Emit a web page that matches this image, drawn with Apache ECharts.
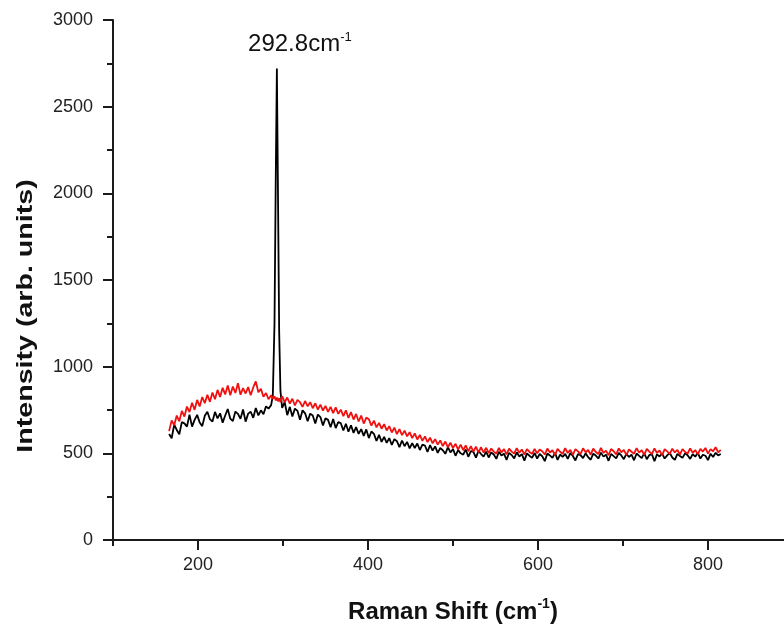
<!DOCTYPE html>
<html>
<head>
<meta charset="utf-8">
<title>Raman spectrum</title>
<script src="https://cdn.jsdelivr.net/npm/echarts@6/dist/echarts.min.js"></script>
<style>
	html, body { margin: 0; padding: 0; background: #fff; }
	#chart { width: 784px; height: 628px; }
</style>
</head>
<body>
<div id="chart"></div>
<script>
// Raman shift (cm-1), shared by both spectra
var ramanShift = [
	166, 169, 172, 175, 178, 181, 184, 187, 190, 193, 196, 199, 202, 205, 208, 211, 214, 217, 220, 223,
	226, 229, 232, 235, 238, 241, 244, 247, 250, 253, 256, 259, 262, 265, 268, 271, 274, 277, 280, 283,
	286,
	288, 290, 291.5, 292.8, 294, 295.5, 297,
	299, 302, 305, 308, 311, 314, 317, 320, 323, 326, 329, 332, 335, 338, 341, 344, 347, 350, 353, 356,
	359, 362, 365, 368, 371, 374, 377, 380, 383, 386, 389, 392, 395, 398, 401, 404, 407, 410, 413, 416,
	419, 422, 425, 428, 431, 434, 437, 440, 443, 446, 449, 452, 455, 458, 461, 464, 467, 470, 473, 476,
	479, 482, 485, 488, 491, 494, 497, 500, 503, 506, 509, 512, 515, 518, 521, 524, 527, 530, 533, 536,
	539, 542, 545, 548, 551, 554, 557, 560, 563, 566, 569, 572, 575, 578, 581, 584, 587, 590, 593, 596,
	599, 602, 605, 608, 611, 614, 617, 620, 623, 626, 629, 632, 635, 638, 641, 644, 647, 650, 653, 656,
	659, 662, 665, 668, 671, 674, 677, 680, 683, 686, 689, 692, 695, 698, 701, 704, 707, 710, 713, 716,
	719, 722, 725, 728, 731, 734, 737, 740, 743, 746, 749, 752, 755, 758, 761, 764, 767, 770, 773, 776,
	779, 782, 785, 788, 791, 794, 797, 800, 803, 806, 809, 812, 815
];
// black spectrum (with the 292.8 peak)
var blackIntensity = [
	612, 587, 665, 635, 610, 680, 673, 654, 723, 654, 693, 722, 678, 657, 717, 740, 697, 683, 739, 702,
	731, 677, 718, 756, 700, 686, 741, 728, 699, 753, 683, 729, 740, 705, 762, 719, 748, 725, 771, 758,
	778,
	830, 1250, 2100, 2720, 2050, 1200, 860,
	762, 795, 720, 768, 712, 758, 745, 694, 748, 731, 685, 729, 718, 672, 724, 709, 661, 702, 693, 650,
	698, 646, 680, 674, 632, 671, 625, 662, 618, 651, 612, 640, 601, 638, 588, 626, 612, 571, 607, 566,
	595, 560, 588, 548, 582, 570, 536, 574, 541, 566, 528, 559, 531, 557, 519, 550, 545, 508, 547, 516,
	540, 503, 531, 518, 497, 536, 505, 524, 486, 519, 500, 492, 522, 480, 513, 509, 475, 514, 496, 481,
	510, 476, 505, 493, 468, 509, 487, 498, 462, 503, 490, 471, 506, 482, 495, 458, 500, 486, 474, 502,
	470, 496, 483, 455, 499, 488, 474, 503, 462, 493, 480, 497, 468, 501, 485, 459, 495, 490, 472, 500,
	478, 463, 498, 487, 470, 504, 481, 492, 457, 496, 484, 471, 502, 488, 466, 497, 479, 493, 460, 499,
	485, 472, 501, 466, 490, 495, 455, 494, 482, 499, 470, 488, 503, 476, 462, 497, 485, 474, 500, 489,
	468, 495, 481, 502, 470, 492, 486, 461, 498, 479, 503, 488, 496
];
// red spectrum
var redIntensity = [
	628, 690, 662, 718, 685, 745, 712, 770, 738, 792, 751, 808, 770, 825, 789, 838, 797, 851, 812, 866,
	825, 878, 840, 892, 835, 885, 848, 905, 838, 876, 845, 882, 835, 880, 915, 852, 872, 826, 848, 812,
	835,
	815, 830, 805, 822, 800, 818, 795,
	830, 795, 822, 787, 815, 776, 808, 795, 768, 802, 771, 795, 760, 789, 752, 781, 747, 774, 739, 768,
	732, 765, 728, 752, 715, 748, 704, 738, 695, 727, 684, 718, 672, 706, 697, 660, 689, 650, 676, 642,
	668, 632, 657, 620, 648, 611, 640, 605, 631, 598, 622, 588, 615, 580, 606, 572, 598, 565, 590, 558,
	582, 550, 575, 542, 568, 535, 561, 530, 555, 522, 550, 518, 546, 512, 541, 510, 538, 506, 535, 504,
	532, 502, 528, 510, 498, 531, 505, 524, 494, 527, 510, 499, 530, 503, 522, 492, 525, 508, 497, 526,
	500, 522, 512, 493, 528, 505, 518, 490, 526, 509, 497, 530, 502, 520, 491, 524, 511, 495, 529, 506,
	519, 492, 527, 508, 496, 531, 503, 516, 489, 525, 512, 494, 528, 506, 520, 490, 523, 509, 498, 530,
	504, 518, 491, 526, 510, 495, 529, 502, 517, 488, 524, 511, 497, 527, 505, 520, 492, 525, 508, 499,
	528, 503, 519, 494, 526, 510, 531, 498, 524, 512, 535, 506, 520
];
var xMajorTicks = [200, 400, 600, 800];
var xMinorTicks = [100, 300, 500, 700];
var peakLabel = { x: 292.8, y: 2720 };

function pairs(xs, ys) {
	return xs.map(function (x, i) {
		return [x, ys[i]];
	});
}

var axisColor = "#1a1a1a";
var labelFont = "Arial, 'Liberation Sans', sans-serif";

var myChart = echarts.init(document.getElementById("chart"), null, { renderer: "canvas" });
var option = {
	animation: false,
	backgroundColor: "#fff",
	grid: {
		left: 113,
		top: 20,
		right: -9,
		bottom: 88,
		containLabel: false,
		outerBoundsMode: "none"
	},
	xAxis: [
		{
			type: "value",
			min: 100,
			max: 900,
			position: "bottom",
			axisLine: { lineStyle: { color: axisColor, width: 2 } },
			axisTick: { show: true, length: 10, customValues: xMajorTicks, lineStyle: { color: axisColor, width: 2 } },
			axisLabel: { customValues: xMajorTicks, margin: 16, color: "#222", fontSize: 18, fontFamily: labelFont },
			splitLine: { show: false },
			name: "{a|Raman Shift (cm}{b|-1}{a|)}",
			nameLocation: "middle",
			nameGap: 57,
			nameTextStyle: {
				rich: {
					a: { fontSize: 24, fontWeight: "bold", color: "#111", fontFamily: labelFont, lineHeight: 30 },
					b: { fontSize: 14, fontWeight: "bold", color: "#111", fontFamily: labelFont, verticalAlign: "top", lineHeight: 30 }
				}
			}
		},
		{
			// minor ticks only
			type: "value",
			min: 100,
			max: 900,
			position: "bottom",
			offset: 0,
			axisLine: { show: false },
			axisTick: { show: true, length: 6, customValues: xMinorTicks, lineStyle: { color: axisColor, width: 2 } },
			axisLabel: { show: false },
			splitLine: { show: false }
		}
	],
	yAxis: {
		type: "value",
		min: 0,
		max: 3000,
		interval: 500,
		axisLine: { show: true, lineStyle: { color: axisColor, width: 2 } },
		axisTick: { show: true, length: 10, lineStyle: { color: axisColor, width: 2 } },
		minorTick: { show: true, splitNumber: 2, length: 6, lineStyle: { color: axisColor, width: 2 } },
		axisLabel: {
			margin: 20,
			color: "#222",
			fontSize: 18,
			fontFamily: labelFont,
			formatter: function (v) {
				return String(v);
			}
		},
		splitLine: { show: false }
	},
	graphic: [
		{
			type: "text",
			x: 26,
			y: 316,
			rotation: Math.PI / 2,
			scaleX: 1.3,
			style: {
				text: "Intensity (arb. units)",
				fontSize: 22,
				fontWeight: "bold",
				fontFamily: labelFont,
				fill: "#111",
				align: "center",
				verticalAlign: "middle"
			}
		}
	],
	series: [
		{
			name: "black",
			type: "line",
			data: pairs(ramanShift, blackIntensity),
			showSymbol: false,
			lineStyle: { color: "#000", width: 1.8 },
			itemStyle: { color: "#000" },
			z: 2,
			markPoint: {
				symbol: "circle",
				symbolSize: 0,
				itemStyle: { color: "rgba(0,0,0,0)" },
				label: {
					show: true,
					position: "top",
					distance: 10,
					offset: [23, 0],
					formatter: "{a|292.8cm}{b|-1}",
					rich: {
						a: { fontSize: 24, color: "#111", fontFamily: labelFont, lineHeight: 28 },
						b: { fontSize: 13, color: "#111", fontFamily: labelFont, verticalAlign: "top", lineHeight: 28 }
					}
				},
				data: [{ coord: [peakLabel.x, peakLabel.y] }]
			}
		},
		{
			name: "red",
			type: "line",
			data: pairs(ramanShift, redIntensity),
			showSymbol: false,
			lineStyle: { color: "#f01010", width: 1.8 },
			itemStyle: { color: "#f01010" },
			z: 3
		}
	]
};
myChart.setOption(option);
window.addEventListener("resize", myChart.resize);
</script>
</body>
</html>
